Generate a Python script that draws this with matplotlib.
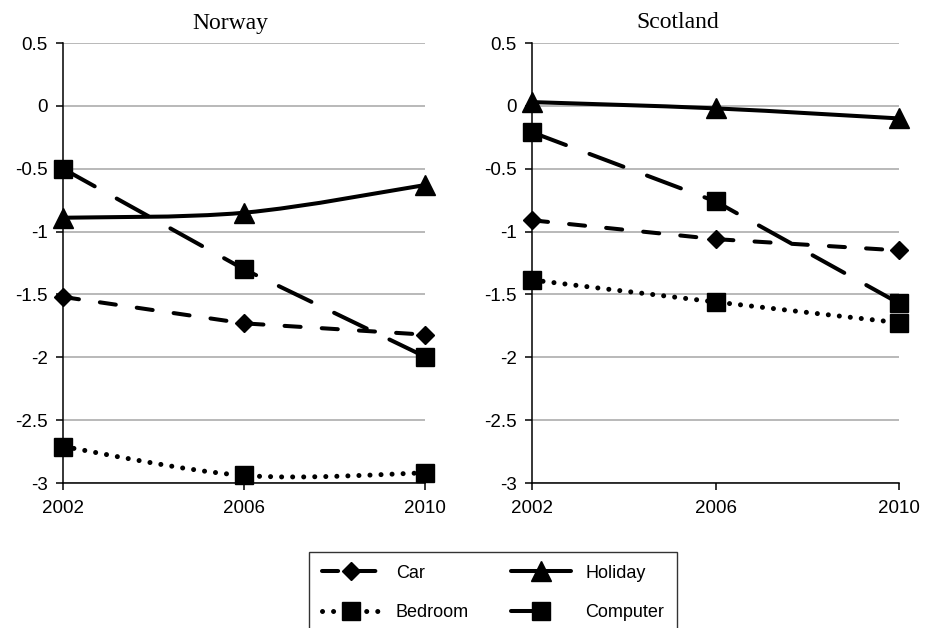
import matplotlib
matplotlib.use("Agg")
import matplotlib.pyplot as plt
from matplotlib.path import Path
from matplotlib.patches import PathPatch
from matplotlib.lines import Line2D

years = [2002, 2006, 2010]
yticks = [0.5, 0, -0.5, -1, -1.5, -2, -2.5, -3]
ytick_labels = ["0.5", "0", "-0.5", "-1", "-1.5", "-2", "-2.5", "-3"]

# Norway
nor_car = [-1.52, -1.73, -1.82]
nor_holiday = [-0.89, -0.85, -0.63]
nor_bedroom = [-2.71, -2.94, -2.92]
nor_computer = [-0.50, -1.30, -1.995]

# Scotland
sco_car = [-0.91, -1.06, -1.15]
sco_holiday = [0.03, -0.02, -0.10]
sco_bedroom = [-1.385, -1.56, -1.725]
sco_computer = [-0.21, -0.76, -1.57]

styles = {
    "Car": dict(lw=2.9, ls=(0, (4, 5.25)), marker="D", ms=9.5, smooth=False),
    "Holiday": dict(lw=2.9, ls="-", marker="^", ms=15, smooth=True),
    "Bedroom": dict(lw=3.6, ls=(0, (0.01, 2.2)), marker="s", ms=13, smooth=True),
    "Computer": dict(lw=2.9, ls=(0, (9, 6.25)), marker="s", ms=13, smooth=False),
}


def smooth_path(xs, ys):
    # Excel-like smoothed line as cubic bezier segments
    pts = list(zip(xs, ys))
    verts = [pts[0]]
    codes = [Path.MOVETO]
    n = len(pts)
    for i in range(n - 1):
        p0 = pts[max(i - 1, 0)]
        p1 = pts[i]
        p2 = pts[i + 1]
        p3 = pts[min(i + 2, n - 1)]
        c1 = (p1[0] + (p2[0] - p0[0]) / 6, p1[1] + (p2[1] - p0[1]) / 6)
        c2 = (p2[0] - (p3[0] - p1[0]) / 6, p2[1] - (p3[1] - p1[1]) / 6)
        verts += [c1, c2, p2]
        codes += [Path.CURVE4] * 3
    return Path(verts, codes)


def draw_series(ax, name, vals):
    st = styles[name]
    if st["smooth"]:
        patch = PathPatch(smooth_path(years, vals), fill=False, edgecolor="black",
                          lw=st["lw"], linestyle=st["ls"], clip_on=False, zorder=3)
        patch.set_capstyle("round")
        ax.add_patch(patch)
    else:
        ax.plot(years, vals, color="black", lw=st["lw"], ls=st["ls"],
                dash_capstyle="round", solid_capstyle="round", clip_on=False, zorder=3)
    ax.plot(years, vals, ls="none", marker=st["marker"], ms=st["ms"],
            color="black", clip_on=False, zorder=4)


def setup(ax):
    ax.set_xlim(2002, 2010)
    ax.set_ylim(-3, 0.5)
    ax.set_xticks(years)
    ax.set_xticklabels([str(y) for y in years])
    ax.set_yticks(yticks)
    ax.set_yticklabels(ytick_labels)
    for s in ["top", "right"]:
        ax.spines[s].set_visible(False)
    for s in ["left", "bottom"]:
        ax.spines[s].set_linewidth(1.1)
        ax.spines[s].set_zorder(2)
    ax.grid(axis="y", color="#a6a6a6", lw=1.1, zorder=0)
    ax.set_axisbelow(True)
    ax.tick_params(direction="out", length=5, width=1.1, labelsize=13.5,
                   color="black")
    ax.tick_params(axis="y", pad=6)
    ax.tick_params(axis="x", pad=7)
    for lab in ax.get_xticklabels() + ax.get_yticklabels():
        lab.set_fontfamily("Liberation Sans")


W, H = 933, 628
fig = plt.figure(figsize=(W / 100, H / 100), dpi=100)
ax1 = fig.add_axes([63 / W, 1 - 483 / H, 362 / W, 440 / H])
ax2 = fig.add_axes([532 / W, 1 - 483 / H, 367 / W, 440 / H])

for ax, data in [(ax1, [nor_car, nor_holiday, nor_bedroom, nor_computer]),
                 (ax2, [sco_car, sco_holiday, sco_bedroom, sco_computer])]:
    setup(ax)
    for name, vals in zip(["Car", "Holiday", "Bedroom", "Computer"], data):
        draw_series(ax, name, vals)

fig.text(230 / W, 1 - 23 / H, "Norway", ha="center", va="center",
         fontsize=17, family="Liberation Serif")
fig.text(678 / W, 1 - 23 / H, "Scotland", ha="center", va="center",
         fontsize=17, family="Liberation Serif")

# column-wise fill: Car / Bedroom in first column, Holiday / Computer in second
order = ["Car", "Bedroom", "Holiday", "Computer"]
handles = [Line2D([], [], color="black", lw=styles[n]["lw"], ls=styles[n]["ls"],
                  marker=styles[n]["marker"], ms=styles[n]["ms"],
                  dash_capstyle="round", solid_capstyle="round") for n in order]
leg = fig.legend(handles, order, loc="upper left", bbox_to_anchor=(309 / W, 1 - 552 / H),
                 ncol=2, frameon=True, fancybox=False, edgecolor="black",
                 prop={"family": "Liberation Sans", "size": 13},
                 handlelength=3.3, columnspacing=2.35, labelspacing=1.23,
                 borderpad=0.7, handletextpad=0.8, borderaxespad=0)
leg.get_frame().set_linewidth(1.0)

fig.savefig("out.png", dpi=100)
